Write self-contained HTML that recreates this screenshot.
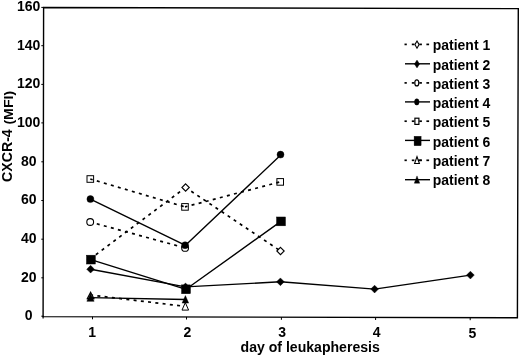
<!DOCTYPE html>
<html><head><meta charset="utf-8"><title>CXCR-4 (MFI) by day of leukapheresis</title>
<style>html,body{margin:0;padding:0;background:#fff}svg{display:block}</style></head><body>
<svg width="520" height="357" viewBox="0 0 520 357" font-family="'Liberation Sans', sans-serif" font-weight="bold" font-size="14" fill="#000">
<rect width="520" height="357" fill="#fff"/>
<polygon points="43.6,7.5 518.3,8.6 517.4,317.7 43.1,316.6" fill="none" stroke="#000" stroke-width="1.4"/>
<line x1="41.3" y1="7.4" x2="43.4" y2="7.4" stroke="#000" stroke-width="1"/>
<text x="28.7" y="10.8" text-anchor="middle">160</text>
<line x1="41.3" y1="45.7" x2="43.4" y2="45.7" stroke="#000" stroke-width="1"/>
<text x="28.7" y="49.5" text-anchor="middle">140</text>
<line x1="41.3" y1="84.4" x2="43.4" y2="84.4" stroke="#000" stroke-width="1"/>
<text x="28.7" y="88.2" text-anchor="middle">120</text>
<line x1="41.3" y1="122.9" x2="43.4" y2="122.9" stroke="#000" stroke-width="1"/>
<text x="28.7" y="126.6" text-anchor="middle">100</text>
<line x1="41.3" y1="161.8" x2="43.4" y2="161.8" stroke="#000" stroke-width="1"/>
<text x="28.7" y="165.7" text-anchor="middle">80</text>
<line x1="41.3" y1="200.5" x2="43.4" y2="200.5" stroke="#000" stroke-width="1"/>
<text x="28.7" y="204.4" text-anchor="middle">60</text>
<line x1="41.3" y1="239.2" x2="43.4" y2="239.2" stroke="#000" stroke-width="1"/>
<text x="28.7" y="242.8" text-anchor="middle">40</text>
<line x1="41.3" y1="277.8" x2="43.4" y2="277.8" stroke="#000" stroke-width="1"/>
<text x="28.7" y="281.5" text-anchor="middle">20</text>
<line x1="41.3" y1="316.2" x2="43.4" y2="316.2" stroke="#000" stroke-width="1"/>
<text x="28.7" y="319.8" text-anchor="middle">0</text>
<line x1="92.5" y1="316.7" x2="92.5" y2="319.3" stroke="#000" stroke-width="1"/>
<text x="92.1" y="336.9" text-anchor="middle">1</text>
<line x1="186.5" y1="316.9" x2="186.5" y2="319.5" stroke="#000" stroke-width="1"/>
<text x="187.5" y="337.0" text-anchor="middle">2</text>
<line x1="281.4" y1="317.2" x2="281.4" y2="319.8" stroke="#000" stroke-width="1"/>
<text x="282.2" y="337.2" text-anchor="middle">3</text>
<line x1="375.6" y1="317.4" x2="375.6" y2="320.0" stroke="#000" stroke-width="1"/>
<text x="376.6" y="337.4" text-anchor="middle">4</text>
<line x1="470.2" y1="317.6" x2="470.2" y2="320.2" stroke="#000" stroke-width="1"/>
<text x="472.3" y="337.6" text-anchor="middle">5</text>
<text x="240.6" y="351.7" textLength="139.2" lengthAdjust="spacingAndGlyphs">day of leukapheresis</text>
<text transform="translate(12.1,181.9) rotate(-90)" textLength="52.6" lengthAdjust="spacingAndGlyphs">CXCR-4</text>
<text transform="translate(12.6,124.6) rotate(-90) scale(1,0.9)" textLength="33.8" lengthAdjust="spacingAndGlyphs">(MFI)</text>
<line x1="43.1" y1="316" x2="43.1" y2="318.6" stroke="#000" stroke-width="1.2"/>
<line x1="90.4" y1="258.8" x2="185.6" y2="187.5" stroke="#000" stroke-width="1.7" fill="none" stroke-dasharray="3 4.3" stroke-dashoffset="0.5"/><line x1="185.6" y1="187.5" x2="280.5" y2="251.0" stroke="#000" stroke-width="1.7" fill="none" stroke-dasharray="3 4.3" stroke-dashoffset="0.5"/>
<polygon points="90.7,256.3 94.0,259.6 90.7,262.9 87.4,259.6" fill="#fff" stroke="#000" stroke-width="1.0"/>
<polygon points="185.6,183.8 189.3,187.5 185.6,191.2 181.9,187.5" fill="#fff" stroke="#000" stroke-width="1.1"/>
<polygon points="280.5,247.3 284.2,251.0 280.5,254.7 276.8,251.0" fill="#fff" stroke="#000" stroke-width="1.1"/>
<polyline points="90.6,269.2 185.5,286.9 280.4,281.8 374.6,289.1 470.4,275.1" stroke="#000" stroke-width="1.4" fill="none" stroke-linejoin="round"/>
<polygon points="90.6,265.3 94.5,269.2 90.6,273.1 86.7,269.2" fill="#000" stroke="#000" stroke-width="0.4"/>
<polygon points="185.5,283.0 189.4,286.9 185.5,290.8 181.6,286.9" fill="#000" stroke="#000" stroke-width="0.4"/>
<polygon points="280.4,277.9 284.3,281.8 280.4,285.7 276.5,281.8" fill="#000" stroke="#000" stroke-width="0.4"/>
<polygon points="374.6,285.2 378.5,289.1 374.6,293.0 370.7,289.1" fill="#000" stroke="#000" stroke-width="0.4"/>
<polygon points="470.4,271.2 474.3,275.1 470.4,279.0 466.5,275.1" fill="#000" stroke="#000" stroke-width="0.4"/>
<line x1="90.2" y1="222.0" x2="185.1" y2="247.9" stroke="#000" stroke-width="1.7" fill="none" stroke-dasharray="3 4.3" stroke-dashoffset="0.5"/>
<ellipse cx="90.2" cy="222.0" rx="3.4" ry="3.4" fill="#fff" stroke="#000" stroke-width="1.1"/>
<ellipse cx="185.1" cy="247.9" rx="3.4" ry="3.4" fill="#fff" stroke="#000" stroke-width="1.1"/>
<polyline points="90.4,199.1 185.5,245.3 281.0,154.8" stroke="#000" stroke-width="1.4" fill="none" stroke-linejoin="round"/>
<ellipse cx="90.4" cy="199.1" rx="3.5" ry="3.5" fill="#000" stroke="#000" stroke-width="0.4"/>
<ellipse cx="185.1" cy="245.2" rx="3.5" ry="3.5" fill="#000" stroke="#000" stroke-width="0.4"/>
<ellipse cx="280.5" cy="154.6" rx="3.5" ry="3.5" fill="#000" stroke="#000" stroke-width="0.4"/>
<line x1="90.3" y1="179.0" x2="185.0" y2="206.9" stroke="#000" stroke-width="1.7" fill="none" stroke-dasharray="3 4.3" stroke-dashoffset="0.5"/><line x1="185.0" y1="206.9" x2="280.2" y2="181.9" stroke="#000" stroke-width="1.7" fill="none" stroke-dasharray="3 4.3" stroke-dashoffset="0.5"/>
<rect x="87.0" y="175.7" width="6.6" height="6.6" fill="none" stroke="#000" stroke-width="1.0"/>
<rect x="181.7" y="203.6" width="6.6" height="6.6" fill="none" stroke="#000" stroke-width="1.0"/>
<rect x="276.9" y="178.6" width="6.6" height="6.6" fill="none" stroke="#000" stroke-width="1.0"/>
<polyline points="90.9,259.6 186.0,289.3 280.9,221.4" stroke="#000" stroke-width="1.4" fill="none" stroke-linejoin="round"/>
<rect x="86.5" y="255.2" width="8.8" height="8.8" fill="#000" stroke="#000" stroke-width="0.5"/>
<rect x="181.6" y="284.9" width="8.8" height="8.8" fill="#000" stroke="#000" stroke-width="0.5"/>
<rect x="276.6" y="217.0" width="8.8" height="8.8" fill="#000" stroke="#000" stroke-width="0.5"/>
<line x1="90.6" y1="295.0" x2="185.3" y2="306.4" stroke="#000" stroke-width="1.7" fill="none" stroke-dasharray="3 4.3" stroke-dashoffset="0.5"/>
<polygon points="90.6,292.3 93.9,298.6 87.3,298.6" fill="#fff" stroke="#000" stroke-width="1.2"/>
<polygon points="185.3,302.6 188.6,310.1 182.0,310.1" fill="#fff" stroke="#000" stroke-width="1.0" stroke-linejoin="miter"/>
<polyline points="90.5,297.6 185.4,299.5" stroke="#000" stroke-width="1.4" fill="none" stroke-linejoin="round"/>
<polygon points="90.5,293.4 94.1,301.3 86.9,301.3" fill="#000" stroke="#000" stroke-width="0.5"/>
<polygon points="185.4,295.6 188.7,303.1 182.1,303.1" fill="#000" stroke="#000" stroke-width="0.4" stroke-linejoin="miter"/>
<line x1="404.5" y1="44.4" x2="406.8" y2="44.4" stroke="#000" stroke-width="1.7"/>
<line x1="411.8" y1="44.4" x2="414.4" y2="44.4" stroke="#000" stroke-width="1.7"/>
<line x1="419.3" y1="44.4" x2="421.9" y2="44.4" stroke="#000" stroke-width="1.7"/>
<line x1="426.4" y1="44.4" x2="429.1" y2="44.4" stroke="#000" stroke-width="1.7"/>
<polygon points="417.0,41.0 419.1,44.6 417.0,48.2 414.9,44.6" fill="#fff" stroke="#000" stroke-width="1.1"/>
<text x="432.8" y="50.2" textLength="57.4" lengthAdjust="spacingAndGlyphs">patient 1</text>
<line x1="405" y1="63.8" x2="430" y2="63.8" stroke="#000" stroke-width="1.4"/>
<polygon points="417.0,60.1 419.6,64.0 417.0,67.9 414.4,64.0" fill="#000" stroke="#000" stroke-width="0.4"/>
<text x="432.8" y="69.5" textLength="57.4" lengthAdjust="spacingAndGlyphs">patient 2</text>
<line x1="404.5" y1="82.9" x2="406.8" y2="82.9" stroke="#000" stroke-width="1.7"/>
<line x1="411.8" y1="82.9" x2="414.4" y2="82.9" stroke="#000" stroke-width="1.7"/>
<line x1="419.3" y1="82.9" x2="421.9" y2="82.9" stroke="#000" stroke-width="1.7"/>
<line x1="426.4" y1="82.9" x2="429.1" y2="82.9" stroke="#000" stroke-width="1.7"/>
<ellipse cx="416.8" cy="82.9" rx="2.0" ry="3.0" fill="#fff" stroke="#000" stroke-width="1.2"/>
<text x="432.8" y="88.7" textLength="57.4" lengthAdjust="spacingAndGlyphs">patient 3</text>
<line x1="405" y1="101.9" x2="430" y2="101.9" stroke="#000" stroke-width="1.4"/>
<ellipse cx="416.8" cy="101.9" rx="2.3" ry="3.2" fill="#000" stroke="#000" stroke-width="0.4"/>
<text x="432.8" y="108.0" textLength="57.4" lengthAdjust="spacingAndGlyphs">patient 4</text>
<line x1="404.5" y1="121.2" x2="406.8" y2="121.2" stroke="#000" stroke-width="1.7"/>
<line x1="411.8" y1="121.2" x2="414.4" y2="121.2" stroke="#000" stroke-width="1.7"/>
<line x1="419.3" y1="121.2" x2="421.9" y2="121.2" stroke="#000" stroke-width="1.7"/>
<line x1="426.4" y1="121.2" x2="429.1" y2="121.2" stroke="#000" stroke-width="1.7"/>
<rect x="414.9" y="118.2" width="4.0" height="6.2" fill="#fff" stroke="#000" stroke-width="1.2"/>
<text x="432.8" y="127.3" textLength="57.4" lengthAdjust="spacingAndGlyphs">patient 5</text>
<line x1="405" y1="140.4" x2="430" y2="140.4" stroke="#000" stroke-width="1.4"/>
<rect x="414.1" y="136.3" width="7.0" height="9.4" fill="#000" stroke="#000" stroke-width="0.4"/>
<text x="432.8" y="146.6" textLength="57.4" lengthAdjust="spacingAndGlyphs">patient 6</text>
<line x1="404.5" y1="160.3" x2="406.8" y2="160.3" stroke="#000" stroke-width="1.7"/>
<line x1="411.8" y1="160.3" x2="414.4" y2="160.3" stroke="#000" stroke-width="1.7"/>
<line x1="419.3" y1="160.3" x2="421.9" y2="160.3" stroke="#000" stroke-width="1.7"/>
<line x1="426.4" y1="160.3" x2="429.1" y2="160.3" stroke="#000" stroke-width="1.7"/>
<polygon points="417.0,156.6 419.4,163.5 414.6,163.5" fill="#fff" stroke="#000" stroke-width="1.1" stroke-linejoin="miter"/>
<line x1="417.9" y1="160.3" x2="421.6" y2="160.3" stroke="#000" stroke-width="1.6"/>
<text x="432.8" y="165.8" textLength="57.4" lengthAdjust="spacingAndGlyphs">patient 7</text>
<line x1="405" y1="179.7" x2="430" y2="179.7" stroke="#000" stroke-width="1.4"/>
<polygon points="417.0,175.9 419.7,183.2 414.3,183.2" fill="#000" stroke="#000" stroke-width="0.4" stroke-linejoin="miter"/>
<text x="432.8" y="185.1" textLength="57.4" lengthAdjust="spacingAndGlyphs">patient 8</text>
</svg></body></html>
